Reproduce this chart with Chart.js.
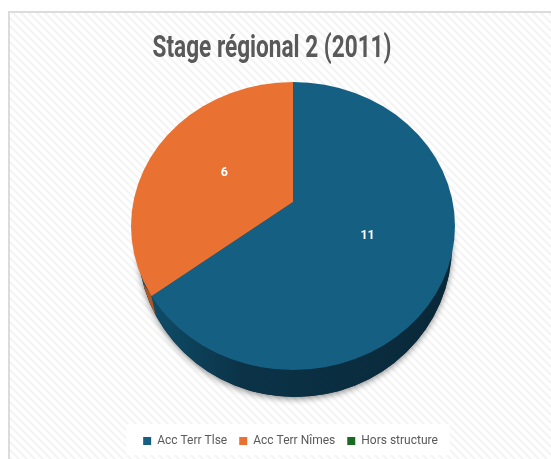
<!DOCTYPE html>
<html lang="fr">
<head>
<meta charset="utf-8">
<title>Stage régional 2 (2011)</title>
<style>html,body{margin:0;padding:0;background:#fff}canvas{display:block}</style>
<script src="https://cdn.jsdelivr.net/npm/chart.js@4"></script>
</head>
<body>
<canvas id="c" width="551" height="459"></canvas>
<script>
const chartTitle = 'Stage régional 2 (2011)';
const categories = ['Acc Terr Tlse', 'Acc Terr Nîmes', 'Hors structure'];
const values = [11, 6, 0];
const colors = ['#156082', '#E97132', '#196B24'];

const view = {
  apexX: 293, apexY: 202, squash: 0.88, drawR: 205,
  face: {x: 293, y: 226, rx: 162, ry: 144},
  wall: {x: 295, y: 245, rx: 157, ry: 152},
  titleX: 272, titleWidth: 239,
  legendDX: 15, legendDY: -2
};

function hatch(ctx) {
  const p = document.createElement('canvas');
  p.width = p.height = 8;
  const g = p.getContext('2d');
  g.fillStyle = '#ffffff'; g.fillRect(0, 0, 8, 8);
  g.strokeStyle = '#f4f4f4'; g.lineWidth = 2;
  g.beginPath();
  g.moveTo(-2, -2); g.lineTo(10, 10);
  g.moveTo(-10, -2); g.lineTo(2, 10);
  g.moveTo(6, -2); g.lineTo(18, 10);
  g.stroke();
  return ctx.createPattern(p, 'repeat');
}
function ellipse(ctx, e) {
  ctx.beginPath();
  ctx.ellipse(e.x, e.y, e.rx, e.ry, 0, 0, Math.PI * 2);
}

const backdrop = {
  id: 'backdrop',
  beforeDraw(chart) {
    const c = chart.ctx;
    c.save();
    c.fillStyle = '#fff'; c.fillRect(0, 0, 551, 459);
    c.fillStyle = hatch(c); c.fillRect(9, 12, 542, 447);
    c.fillStyle = '#dcdcdc';
    c.fillRect(8, 11, 543, 2); c.fillRect(8, 11, 2, 448);
    c.fillStyle = 'rgba(255,255,255,0.85)';
    c.fillRect(126, 424, 324, 31);
    c.restore();
  }
};

const layoutShift = {
  id: 'layoutShift',
  afterLayout(chart) {
    const tb = chart.titleBlock;
    if (!tb._wrapped) {
      const draw = tb.draw.bind(tb);
      tb.draw = function () {
        const c = chart.ctx;
        c.save();
        c.font = Chart.helpers.toFont(tb.options.font).string;
        const sx = view.titleWidth / c.measureText(chartTitle).width;
        const mid = (tb.left + tb.right) / 2;
        c.translate(view.titleX, 0);
        c.scale(sx, 1);
        c.translate(-mid, 0);
        draw();
        c.restore();
      };
      tb._wrapped = true;
    }
    const lg = chart.legend;
    if (!lg._wrapped) {
      const draw = lg.draw.bind(lg);
      lg.draw = function () {
        const c = chart.ctx;
        c.save();
        c.translate(view.legendDX, view.legendDY);
        draw();
        c.restore();
      };
      lg._wrapped = true;
    }
  }
};

const tilt = {
  id: 'tilt',
  beforeDatasetsDraw(chart) {
    const c = chart.ctx, arc = chart.getDatasetMeta(0).data[0];
    c.save();
    // soft shadow beneath the disc
    c.save();
    c.shadowColor = 'rgba(0,0,0,0.45)'; c.shadowBlur = 6; c.shadowOffsetY = 2;
    c.fillStyle = '#0a2a3a';
    ellipse(c, view.wall); c.fill();
    c.restore();
    // side wall
    const g = c.createLinearGradient(150, 0, 450, 0);
    g.addColorStop(0, '#0f4d69');
    g.addColorStop(0.3, '#0b3348');
    g.addColorStop(1, '#092838');
    c.fillStyle = g;
    ellipse(c, view.wall); c.fill();
    c.save();
    c.beginPath();
    c.moveTo(120, 250); c.lineTo(151, 295); c.lineTo(158, 325); c.lineTo(120, 325); c.closePath();
    c.clip();
    c.fillStyle = '#b5561f';
    ellipse(c, view.wall); c.fill();
    c.restore();
    // top face
    ellipse(c, view.face); c.clip();
    const k = view.drawR / arc.outerRadius;
    c.translate(view.apexX, view.apexY);
    c.scale(k, k * view.squash);
    c.translate(-arc.x, -arc.y);
  },
  afterDatasetsDraw(chart) {
    const c = chart.ctx;
    c.restore();
    c.save();
    c.fillStyle = '#ffffff';
    c.font = 'bold 12.5px Roboto, sans-serif';
    c.textAlign = 'center'; c.textBaseline = 'middle';
    chart.getDatasetMeta(0).data.forEach((a, i) => {
      if (!values[i]) return;
      const m = (a.startAngle + a.endAngle) / 2, rho = 80;
      c.fillText(String(values[i]),
        view.apexX + 3 + Math.cos(m) * rho,
        view.apexY + 2 + Math.sin(m) * rho * view.squash);
    });
    c.restore();
  }
};

new Chart(document.getElementById('c'), {
  type: 'pie',
  data: {
    labels: categories,
    datasets: [{data: values, backgroundColor: colors, borderWidth: 0}]
  },
  options: {
    responsive: false,
    animation: false,
    plugins: {
      tooltip: {enabled: false},
      title: {
        display: true, text: chartTitle, color: '#595959',
        font: {family: 'Roboto, sans-serif', size: 31, weight: 'bold'},
        padding: {top: 31, bottom: 8}
      },
      legend: {
        position: 'bottom',
        labels: {
          color: '#595959', boxWidth: 8, boxHeight: 8,
          font: {family: 'Roboto, sans-serif', size: 12}, padding: 12
        }
      }
    }
  },
  plugins: [backdrop, layoutShift, tilt]
});
</script>
</body>
</html>
